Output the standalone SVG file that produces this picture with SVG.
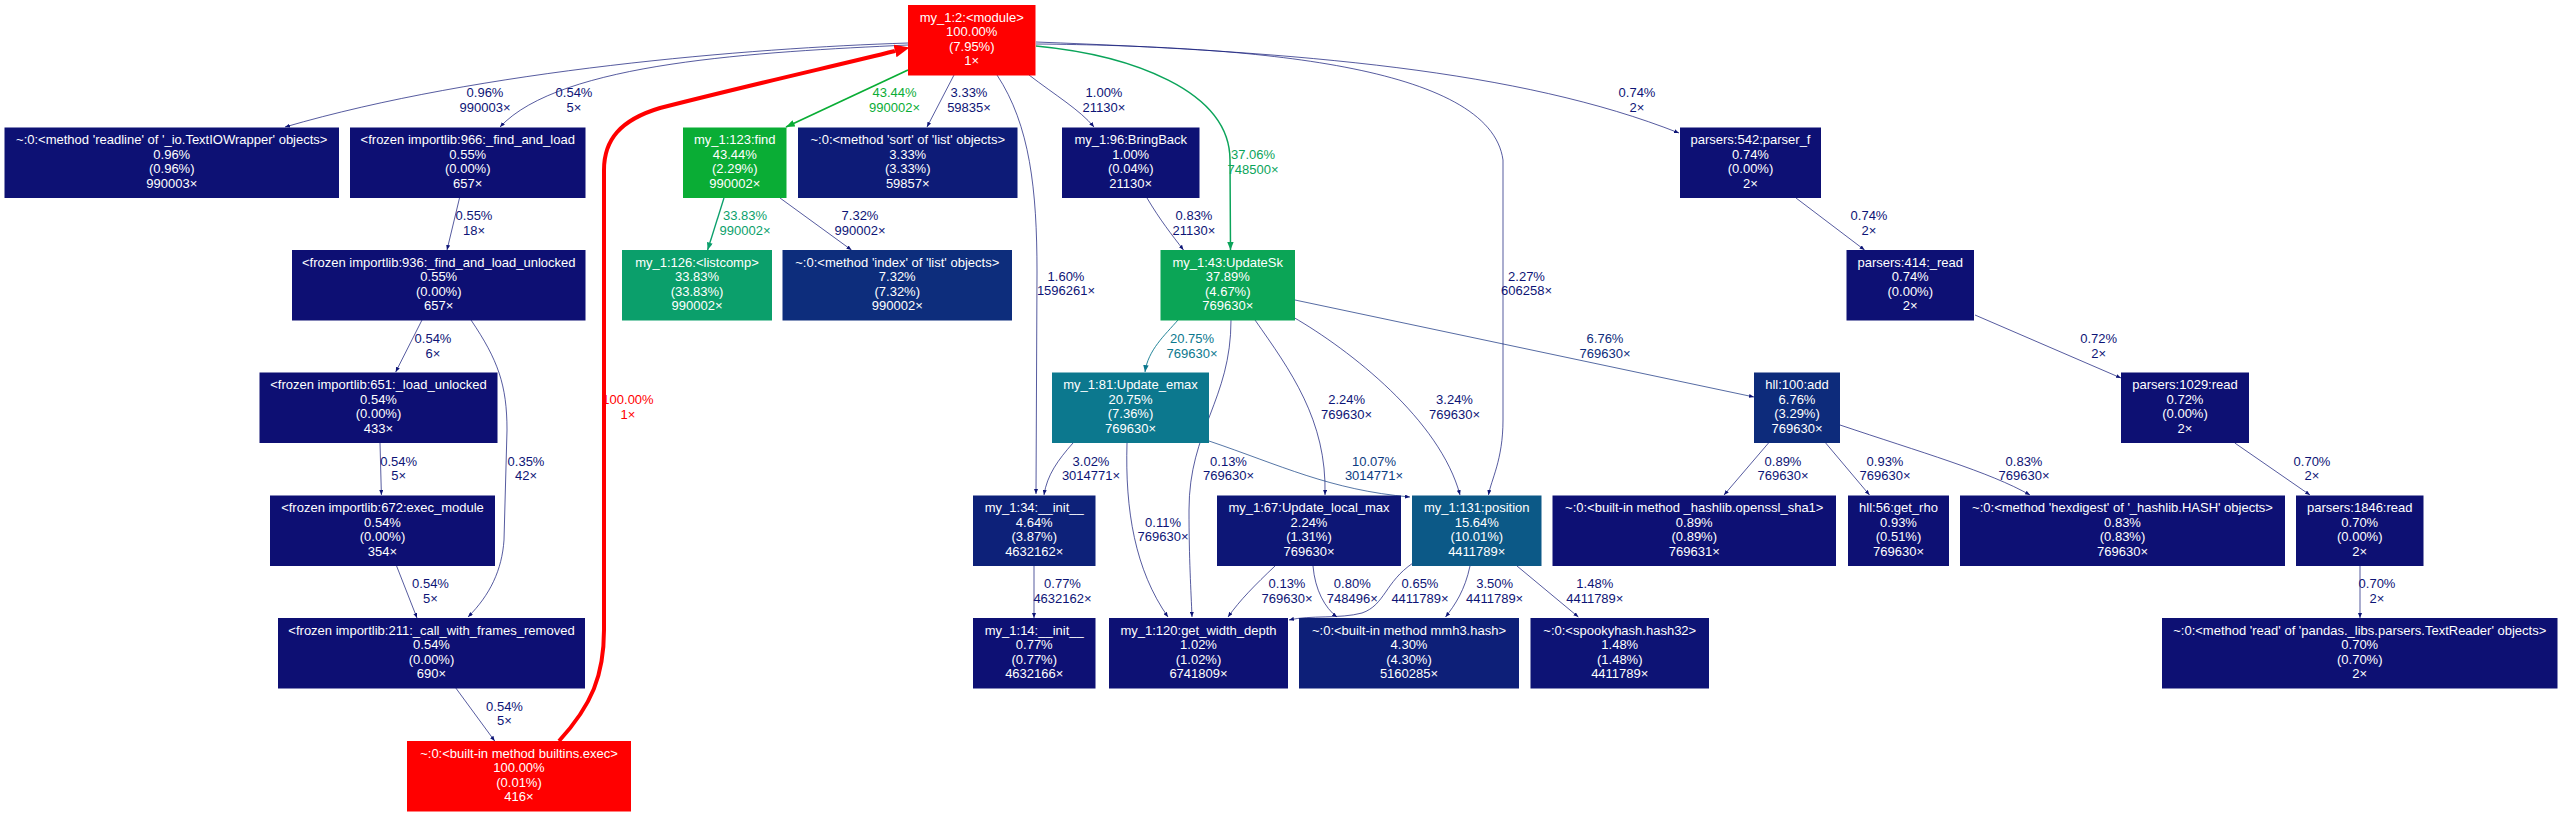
<svg xmlns="http://www.w3.org/2000/svg" width="2563" height="816" viewBox="0 0 2563 816">
<style>
.nt{font-family:"Liberation Sans",Arial,Helvetica,sans-serif;font-size:13px;fill:#ffffff;text-anchor:middle}
.et{font-family:"Liberation Sans",Arial,Helvetica,sans-serif;font-size:13px;text-anchor:middle}
.e{fill:none;stroke-width:0.7}
.b{stroke:#0d1476;marker-end:url(#mb)}
.lb{fill:#0d1476}
.red{stroke:#ff0000;stroke-width:4;marker-end:url(#mred)}
.gfind{stroke:#0aad35;stroke-width:1.74;marker-end:url(#mfind)}
.gsk{stroke:#0ba45a;stroke-width:1.48;marker-end:url(#msk)}
.glc{stroke:#0b9f6b;stroke-width:1.35;marker-end:url(#mlc)}
.gem{stroke:#0c788e;stroke-width:0.9;marker-end:url(#mem)}
</style>
<defs>
<marker id="mb" viewBox="0 0 10 8" refX="10" refY="4" markerWidth="5" markerHeight="4" markerUnits="userSpaceOnUse" orient="auto"><path d="M0,0L10,4L0,8z" fill="#0d1476"/></marker>
<marker id="mred" viewBox="0 0 14 12" refX="0" refY="6" markerWidth="15" markerHeight="13" markerUnits="userSpaceOnUse" orient="auto"><path d="M0,0L14,6L0,12z" fill="#ff0000"/></marker>
<marker id="mfind" viewBox="0 0 10 8" refX="10" refY="4" markerWidth="9" markerHeight="7" markerUnits="userSpaceOnUse" orient="auto"><path d="M0,0L10,4L0,8z" fill="#0aad35"/></marker>
<marker id="msk" viewBox="0 0 10 8" refX="10" refY="4" markerWidth="8.5" markerHeight="6.5" markerUnits="userSpaceOnUse" orient="auto"><path d="M0,0L10,4L0,8z" fill="#0ba45a"/></marker>
<marker id="mlc" viewBox="0 0 10 8" refX="10" refY="4" markerWidth="8" markerHeight="6" markerUnits="userSpaceOnUse" orient="auto"><path d="M0,0L10,4L0,8z" fill="#0b9f6b"/></marker>
<marker id="mem" viewBox="0 0 10 8" refX="10" refY="4" markerWidth="7" markerHeight="5.5" markerUnits="userSpaceOnUse" orient="auto"><path d="M0,0L10,4L0,8z" fill="#0c788e"/></marker>
</defs>
<rect width="2563" height="816" fill="#ffffff"/>
<g id="connectors">
<g id="e-module-readline"><path class="e b" d="M908,43 C750,48 480,70 285,127"/><text class="et lb"><tspan x="485" y="97">0.96%</tspan><tspan x="485" y="112">990003×</tspan></text></g>
<g id="e-module-fl966"><path class="e b" d="M908,45 C760,52 560,62 500,127"/><text class="et lb"><tspan x="574" y="97">0.54%</tspan><tspan x="574" y="112">5×</tspan></text></g>
<g id="e-module-find"><path class="e gfind" d="M908,70 L786,127"/><text class="et" fill="#0aad35"><tspan x="894.5" y="97">43.44%</tspan><tspan x="894.5" y="112">990002×</tspan></text></g>
<g id="e-module-sort"><path class="e b" d="M954,75 L927,127"/><text class="et lb"><tspan x="969" y="97">3.33%</tspan><tspan x="969" y="112">59835×</tspan></text></g>
<g id="e-module-init34"><path class="e b" d="M997,75 C1030,125 1037,190 1037,272 L1036,494"/><text class="et lb"><tspan x="1066" y="280.5">1.60%</tspan><tspan x="1066" y="295">1596261×</tspan></text></g>
<g id="e-module-bringback"><path class="e b" d="M1029,75 C1055,95 1080,110 1094,127"/><text class="et lb"><tspan x="1104" y="97">1.00%</tspan><tspan x="1104" y="112">21130×</tspan></text></g>
<g id="e-module-updatesk"><path class="e gsk" d="M1036,46 C1130,55 1230,90 1230,160 L1230.5,250"/><text class="et" fill="#0ba45a"><tspan x="1253" y="159">37.06%</tspan><tspan x="1253" y="173.5">748500×</tspan></text></g>
<g id="e-module-position"><path class="e b" d="M1036,44 C1250,46 1490,65 1503,160 L1503,420 C1503,460 1491,480 1488.5,495"/><text class="et lb"><tspan x="1526.5" y="280.5">2.27%</tspan><tspan x="1526.5" y="295">606258×</tspan></text></g>
<g id="e-module-parserf"><path class="e b" d="M1036,42 C1300,52 1520,70 1679,133"/><text class="et lb"><tspan x="1637" y="97">0.74%</tspan><tspan x="1637" y="112">2×</tspan></text></g>
<g id="e-find-listcomp"><path class="e glc" d="M724,198 L707.6,250"/><text class="et" fill="#0b9f6b"><tspan x="745" y="220">33.83%</tspan><tspan x="745" y="235">990002×</tspan></text></g>
<g id="e-find-index"><path class="e b" d="M780,198 L851.5,250"/><text class="et lb"><tspan x="860" y="220">7.32%</tspan><tspan x="860" y="235">990002×</tspan></text></g>
<g id="e-bringback-updatesk"><path class="e b" d="M1147,198 C1160,220 1172,235 1183.5,250"/><text class="et lb"><tspan x="1194" y="220">0.83%</tspan><tspan x="1194" y="235">21130×</tspan></text></g>
<g id="e-updatesk-emax"><path class="e gem" d="M1178,320 C1165,335 1148,350 1145,372"/><text class="et" fill="#0c788e"><tspan x="1192" y="343">20.75%</tspan><tspan x="1192" y="357.5">769630×</tspan></text></g>
<g id="e-updatesk-gwd"><path class="e b" d="M1231,320 C1231,400 1189,430 1189,510 C1189,560 1191,590 1192,617"/><text class="et lb"><tspan x="1228.5" y="465.5">0.13%</tspan><tspan x="1228.5" y="480">769630×</tspan></text></g>
<g id="e-updatesk-localmax"><path class="e b" d="M1255,320 C1290,370 1327,420 1325,495"/><text class="et lb"><tspan x="1346.6" y="404">2.24%</tspan><tspan x="1346.6" y="418.5">769630×</tspan></text></g>
<g id="e-updatesk-position"><path class="e b" d="M1293,317 C1350,350 1440,420 1460,495"/><text class="et lb"><tspan x="1454.5" y="404">3.24%</tspan><tspan x="1454.5" y="418.5">769630×</tspan></text></g>
<g id="e-updatesk-hll"><path class="e b" d="M1295,300 L1754,397" style="stroke:#0d2b7b"/><text class="et" fill="#0d2b7b"><tspan x="1605" y="343">6.76%</tspan><tspan x="1605" y="357.5">769630×</tspan></text></g>
<g id="e-emax-init34"><path class="e b" d="M1073,443 C1058,460 1047,475 1044,495"/><text class="et lb"><tspan x="1091" y="465.5">3.02%</tspan><tspan x="1091" y="480">3014771×</tspan></text></g>
<g id="e-emax-gwd"><path class="e b" d="M1127,443 C1125,510 1135,570 1168,617"/><text class="et lb"><tspan x="1163" y="526.7">0.11%</tspan><tspan x="1163" y="541">769630×</tspan></text></g>
<g id="e-emax-position"><path class="e b" d="M1209,441 C1280,465 1330,490 1410,497" style="stroke:#0d3b80"/><text class="et" fill="#0d3b80"><tspan x="1374" y="465.5">10.07%</tspan><tspan x="1374" y="480">3014771×</tspan></text></g>
<g id="e-hll-sha1"><path class="e b" d="M1768.5,443 L1724,495"/><text class="et lb"><tspan x="1783" y="465.5">0.89%</tspan><tspan x="1783" y="480">769630×</tspan></text></g>
<g id="e-hll-getrho"><path class="e b" d="M1825.7,443 L1869.5,495"/><text class="et lb"><tspan x="1885" y="465.5">0.93%</tspan><tspan x="1885" y="480">769630×</tspan></text></g>
<g id="e-hll-hexdigest"><path class="e b" d="M1840,425 C1920,452 1990,472 2030,495"/><text class="et lb"><tspan x="2024" y="465.5">0.83%</tspan><tspan x="2024" y="480">769630×</tspan></text></g>
<g id="e-parserf-read414"><path class="e b" d="M1796,198 L1864.6,250"/><text class="et lb"><tspan x="1869" y="220">0.74%</tspan><tspan x="1869" y="235">2×</tspan></text></g>
<g id="e-read414-p1029"><path class="e b" d="M1975,315 L2121,378"/><text class="et lb"><tspan x="2098.6" y="343">0.72%</tspan><tspan x="2098.6" y="357.5">2×</tspan></text></g>
<g id="e-p1029-p1846"><path class="e b" d="M2234.8,443 L2310,495"/><text class="et lb"><tspan x="2312" y="465.5">0.70%</tspan><tspan x="2312" y="480">2×</tspan></text></g>
<g id="e-p1846-pandas"><path class="e b" d="M2360,566 L2360,618"/><text class="et lb"><tspan x="2377" y="588">0.70%</tspan><tspan x="2377" y="603">2×</tspan></text></g>
<g id="e-fl966-fl936"><path class="e b" d="M459.5,198 L447,250"/><text class="et lb"><tspan x="474" y="220">0.55%</tspan><tspan x="474" y="235">18×</tspan></text></g>
<g id="e-fl936-load651"><path class="e b" d="M422,320 L395.7,372"/><text class="et lb"><tspan x="433" y="343">0.54%</tspan><tspan x="433" y="357.5">6×</tspan></text></g>
<g id="e-fl936-call211"><path class="e b" d="M471,320 C498,360 507,385 507,430 L504,540 C502,570 490,595 468,617"/><text class="et lb"><tspan x="526" y="465.5">0.35%</tspan><tspan x="526" y="480">42×</tspan></text></g>
<g id="e-load651-exec672"><path class="e b" d="M380,443 L381.4,495"/><text class="et lb"><tspan x="398.6" y="465.5">0.54%</tspan><tspan x="398.6" y="480">5×</tspan></text></g>
<g id="e-exec672-call211"><path class="e b" d="M396.6,566 L417,618"/><text class="et lb"><tspan x="430.5" y="588">0.54%</tspan><tspan x="430.5" y="602.7">5×</tspan></text></g>
<g id="e-call211-exec"><path class="e b" d="M455.8,688 L494.7,741"/><text class="et lb"><tspan x="504.5" y="711">0.54%</tspan><tspan x="504.5" y="725.3">5×</tspan></text></g>
<g id="e-exec-module"><path class="e red" d="M559,741 C592,705 604,675 604,630 L604,170 C604,140 620,120 660,108 C750,85 830,67 895,51"/><text class="et" fill="#ff0000"><tspan x="628" y="404">100.00%</tspan><tspan x="628" y="419">1×</tspan></text></g>
<g id="e-init34-init14"><path class="e b" d="M1034,566 L1034,618"/><text class="et lb"><tspan x="1062.5" y="588">0.77%</tspan><tspan x="1062.5" y="602.7">4632162×</tspan></text></g>
<g id="e-localmax-gwd"><path class="e b" d="M1275,566 C1255,585 1240,600 1228,617"/><text class="et lb"><tspan x="1287" y="588">0.13%</tspan><tspan x="1287" y="603">769630×</tspan></text></g>
<g id="e-localmax-mmh3"><path class="e b" d="M1313,566 C1315,590 1325,608 1337,617"/><text class="et lb"><tspan x="1352.3" y="588">0.80%</tspan><tspan x="1352.3" y="603">748496×</tspan></text></g>
<g id="e-position-gwd"><path class="e b" d="M1413,563 C1385,582 1385,605 1362,613 C1340,619 1310,615 1289,620"/><text class="et lb"><tspan x="1420" y="588">0.65%</tspan><tspan x="1420" y="603">4411789×</tspan></text></g>
<g id="e-position-mmh3"><path class="e b" d="M1470,566 C1465,590 1455,605 1445.5,617"/><text class="et lb"><tspan x="1494.6" y="588">3.50%</tspan><tspan x="1494.6" y="603">4411789×</tspan></text></g>
<g id="e-position-spooky"><path class="e b" d="M1517,566 L1578.4,617"/><text class="et lb"><tspan x="1594.8" y="588">1.48%</tspan><tspan x="1594.8" y="603">4411789×</tspan></text></g>
</g>
<g id="n-module"><rect x="908" y="5" width="127.5" height="70.5" fill="#ff0000"/><text class="nt"><tspan x="971.75" y="21.5">my_1:2:&lt;module&gt;</tspan><tspan x="971.75" y="36">100.00%</tspan><tspan x="971.75" y="50.5">(7.95%)</tspan><tspan x="971.75" y="65">1×</tspan></text></g>
<g id="n-readline"><rect x="4.5" y="127.5" width="334.5" height="70.5" fill="#0d1174"/><text class="nt"><tspan x="171.75" y="144">~:0:&lt;method 'readline' of '_io.TextIOWrapper' objects&gt;</tspan><tspan x="171.75" y="158.5">0.96%</tspan><tspan x="171.75" y="173">(0.96%)</tspan><tspan x="171.75" y="187.5">990003×</tspan></text></g>
<g id="n-fl966"><rect x="350" y="127.5" width="235.5" height="70.5" fill="#0d0f73"/><text class="nt"><tspan x="467.75" y="144">&lt;frozen importlib:966:_find_and_load</tspan><tspan x="467.75" y="158.5">0.55%</tspan><tspan x="467.75" y="173">(0.00%)</tspan><tspan x="467.75" y="187.5">657×</tspan></text></g>
<g id="n-find"><rect x="683" y="127.5" width="103.5" height="70.5" fill="#0aad35"/><text class="nt"><tspan x="734.75" y="144">my_1:123:find</tspan><tspan x="734.75" y="158.5">43.44%</tspan><tspan x="734.75" y="173">(2.29%)</tspan><tspan x="734.75" y="187.5">990002×</tspan></text></g>
<g id="n-sort"><rect x="798" y="127.5" width="219.5" height="70.5" fill="#0d1b77"/><text class="nt"><tspan x="907.75" y="144">~:0:&lt;method 'sort' of 'list' objects&gt;</tspan><tspan x="907.75" y="158.5">3.33%</tspan><tspan x="907.75" y="173">(3.33%)</tspan><tspan x="907.75" y="187.5">59857×</tspan></text></g>
<g id="n-bringback"><rect x="1062" y="127.5" width="137.5" height="70.5" fill="#0d1174"/><text class="nt"><tspan x="1130.75" y="144">my_1:96:BringBack</tspan><tspan x="1130.75" y="158.5">1.00%</tspan><tspan x="1130.75" y="173">(0.04%)</tspan><tspan x="1130.75" y="187.5">21130×</tspan></text></g>
<g id="n-parserf"><rect x="1680" y="127.5" width="141" height="70.5" fill="#0d1074"/><text class="nt"><tspan x="1750.5" y="144">parsers:542:parser_f</tspan><tspan x="1750.5" y="158.5">0.74%</tspan><tspan x="1750.5" y="173">(0.00%)</tspan><tspan x="1750.5" y="187.5">2×</tspan></text></g>
<g id="n-fl936"><rect x="292" y="250" width="293.5" height="70.5" fill="#0d0f73"/><text class="nt"><tspan x="438.75" y="266.5">&lt;frozen importlib:936:_find_and_load_unlocked</tspan><tspan x="438.75" y="281">0.55%</tspan><tspan x="438.75" y="295.5">(0.00%)</tspan><tspan x="438.75" y="310">657×</tspan></text></g>
<g id="n-listcomp"><rect x="622" y="250" width="150" height="70.5" fill="#0b9f6b"/><text class="nt"><tspan x="697" y="266.5">my_1:126:&lt;listcomp&gt;</tspan><tspan x="697" y="281">33.83%</tspan><tspan x="697" y="295.5">(33.83%)</tspan><tspan x="697" y="310">990002×</tspan></text></g>
<g id="n-index"><rect x="782.5" y="250" width="229.5" height="70.5" fill="#0d2d7c"/><text class="nt"><tspan x="897.25" y="266.5">~:0:&lt;method 'index' of 'list' objects&gt;</tspan><tspan x="897.25" y="281">7.32%</tspan><tspan x="897.25" y="295.5">(7.32%)</tspan><tspan x="897.25" y="310">990002×</tspan></text></g>
<g id="n-updatesk"><rect x="1160.5" y="250" width="134.5" height="70.5" fill="#0ba556"/><text class="nt"><tspan x="1227.75" y="266.5">my_1:43:UpdateSk</tspan><tspan x="1227.75" y="281">37.89%</tspan><tspan x="1227.75" y="295.5">(4.67%)</tspan><tspan x="1227.75" y="310">769630×</tspan></text></g>
<g id="n-read414"><rect x="1846.5" y="250" width="127.5" height="70.5" fill="#0d1074"/><text class="nt"><tspan x="1910.25" y="266.5">parsers:414:_read</tspan><tspan x="1910.25" y="281">0.74%</tspan><tspan x="1910.25" y="295.5">(0.00%)</tspan><tspan x="1910.25" y="310">2×</tspan></text></g>
<g id="n-load651"><rect x="259.5" y="372.5" width="238" height="70.5" fill="#0d0f73"/><text class="nt"><tspan x="378.5" y="389">&lt;frozen importlib:651:_load_unlocked</tspan><tspan x="378.5" y="403.5">0.54%</tspan><tspan x="378.5" y="418">(0.00%)</tspan><tspan x="378.5" y="432.5">433×</tspan></text></g>
<g id="n-emax"><rect x="1052" y="372.5" width="157" height="70.5" fill="#0c788e"/><text class="nt"><tspan x="1130.5" y="389">my_1:81:Update_emax</tspan><tspan x="1130.5" y="403.5">20.75%</tspan><tspan x="1130.5" y="418">(7.36%)</tspan><tspan x="1130.5" y="432.5">769630×</tspan></text></g>
<g id="n-hll"><rect x="1754" y="372.5" width="86" height="70.5" fill="#0d2b7b"/><text class="nt"><tspan x="1797" y="389">hll:100:add</tspan><tspan x="1797" y="403.5">6.76%</tspan><tspan x="1797" y="418">(3.29%)</tspan><tspan x="1797" y="432.5">769630×</tspan></text></g>
<g id="n-p1029"><rect x="2121" y="372.5" width="128" height="70.5" fill="#0d1073"/><text class="nt"><tspan x="2185" y="389">parsers:1029:read</tspan><tspan x="2185" y="403.5">0.72%</tspan><tspan x="2185" y="418">(0.00%)</tspan><tspan x="2185" y="432.5">2×</tspan></text></g>
<g id="n-exec672"><rect x="270" y="495.5" width="225" height="70.5" fill="#0d0f73"/><text class="nt"><tspan x="382.5" y="512">&lt;frozen importlib:672:exec_module</tspan><tspan x="382.5" y="526.5">0.54%</tspan><tspan x="382.5" y="541">(0.00%)</tspan><tspan x="382.5" y="555.5">354×</tspan></text></g>
<g id="n-init34"><rect x="973" y="495.5" width="122.5" height="70.5" fill="#0d2179"/><text class="nt"><tspan x="1034.25" y="512">my_1:34:__init__</tspan><tspan x="1034.25" y="526.5">4.64%</tspan><tspan x="1034.25" y="541">(3.87%)</tspan><tspan x="1034.25" y="555.5">4632162×</tspan></text></g>
<g id="n-localmax"><rect x="1217" y="495.5" width="184" height="70.5" fill="#0d1676"/><text class="nt"><tspan x="1309" y="512">my_1:67:Update_local_max</tspan><tspan x="1309" y="526.5">2.24%</tspan><tspan x="1309" y="541">(1.31%)</tspan><tspan x="1309" y="555.5">769630×</tspan></text></g>
<g id="n-position"><rect x="1412" y="495.5" width="129.5" height="70.5" fill="#0c5987"/><text class="nt"><tspan x="1476.75" y="512">my_1:131:position</tspan><tspan x="1476.75" y="526.5">15.64%</tspan><tspan x="1476.75" y="541">(10.01%)</tspan><tspan x="1476.75" y="555.5">4411789×</tspan></text></g>
<g id="n-sha1"><rect x="1552.5" y="495.5" width="283.5" height="70.5" fill="#0d1074"/><text class="nt"><tspan x="1694.25" y="512">~:0:&lt;built-in method _hashlib.openssl_sha1&gt;</tspan><tspan x="1694.25" y="526.5">0.89%</tspan><tspan x="1694.25" y="541">(0.89%)</tspan><tspan x="1694.25" y="555.5">769631×</tspan></text></g>
<g id="n-getrho"><rect x="1848" y="495.5" width="101" height="70.5" fill="#0d1074"/><text class="nt"><tspan x="1898.5" y="512">hll:56:get_rho</tspan><tspan x="1898.5" y="526.5">0.93%</tspan><tspan x="1898.5" y="541">(0.51%)</tspan><tspan x="1898.5" y="555.5">769630×</tspan></text></g>
<g id="n-hexdigest"><rect x="1960" y="495.5" width="325" height="70.5" fill="#0d1074"/><text class="nt"><tspan x="2122.5" y="512">~:0:&lt;method 'hexdigest' of '_hashlib.HASH' objects&gt;</tspan><tspan x="2122.5" y="526.5">0.83%</tspan><tspan x="2122.5" y="541">(0.83%)</tspan><tspan x="2122.5" y="555.5">769630×</tspan></text></g>
<g id="n-p1846"><rect x="2296" y="495.5" width="127.5" height="70.5" fill="#0d1073"/><text class="nt"><tspan x="2359.75" y="512">parsers:1846:read</tspan><tspan x="2359.75" y="526.5">0.70%</tspan><tspan x="2359.75" y="541">(0.00%)</tspan><tspan x="2359.75" y="555.5">2×</tspan></text></g>
<g id="n-call211"><rect x="278" y="618" width="307" height="70.5" fill="#0d0f73"/><text class="nt"><tspan x="431.5" y="634.5">&lt;frozen importlib:211:_call_with_frames_removed</tspan><tspan x="431.5" y="649">0.54%</tspan><tspan x="431.5" y="663.5">(0.00%)</tspan><tspan x="431.5" y="678">690×</tspan></text></g>
<g id="n-init14"><rect x="973" y="618" width="122.5" height="70.5" fill="#0d1074"/><text class="nt"><tspan x="1034.25" y="634.5">my_1:14:__init__</tspan><tspan x="1034.25" y="649">0.77%</tspan><tspan x="1034.25" y="663.5">(0.77%)</tspan><tspan x="1034.25" y="678">4632166×</tspan></text></g>
<g id="n-gwd"><rect x="1109" y="618" width="179" height="70.5" fill="#0d1174"/><text class="nt"><tspan x="1198.5" y="634.5">my_1:120:get_width_depth</tspan><tspan x="1198.5" y="649">1.02%</tspan><tspan x="1198.5" y="663.5">(1.02%)</tspan><tspan x="1198.5" y="678">6741809×</tspan></text></g>
<g id="n-mmh3"><rect x="1299" y="618" width="220" height="70.5" fill="#0d1f78"/><text class="nt"><tspan x="1409" y="634.5">~:0:&lt;built-in method mmh3.hash&gt;</tspan><tspan x="1409" y="649">4.30%</tspan><tspan x="1409" y="663.5">(4.30%)</tspan><tspan x="1409" y="678">5160285×</tspan></text></g>
<g id="n-spooky"><rect x="1530.5" y="618" width="178.5" height="70.5" fill="#0d1375"/><text class="nt"><tspan x="1619.75" y="634.5">~:0:&lt;spookyhash.hash32&gt;</tspan><tspan x="1619.75" y="649">1.48%</tspan><tspan x="1619.75" y="663.5">(1.48%)</tspan><tspan x="1619.75" y="678">4411789×</tspan></text></g>
<g id="n-pandasread"><rect x="2162" y="618" width="395.5" height="70.5" fill="#0d1073"/><text class="nt"><tspan x="2359.75" y="634.5">~:0:&lt;method 'read' of 'pandas._libs.parsers.TextReader' objects&gt;</tspan><tspan x="2359.75" y="649">0.70%</tspan><tspan x="2359.75" y="663.5">(0.70%)</tspan><tspan x="2359.75" y="678">2×</tspan></text></g>
<g id="n-exec"><rect x="407" y="741" width="224" height="70.5" fill="#ff0000"/><text class="nt"><tspan x="519" y="757.5">~:0:&lt;built-in method builtins.exec&gt;</tspan><tspan x="519" y="772">100.00%</tspan><tspan x="519" y="786.5">(0.01%)</tspan><tspan x="519" y="801">416×</tspan></text></g>
</svg>
